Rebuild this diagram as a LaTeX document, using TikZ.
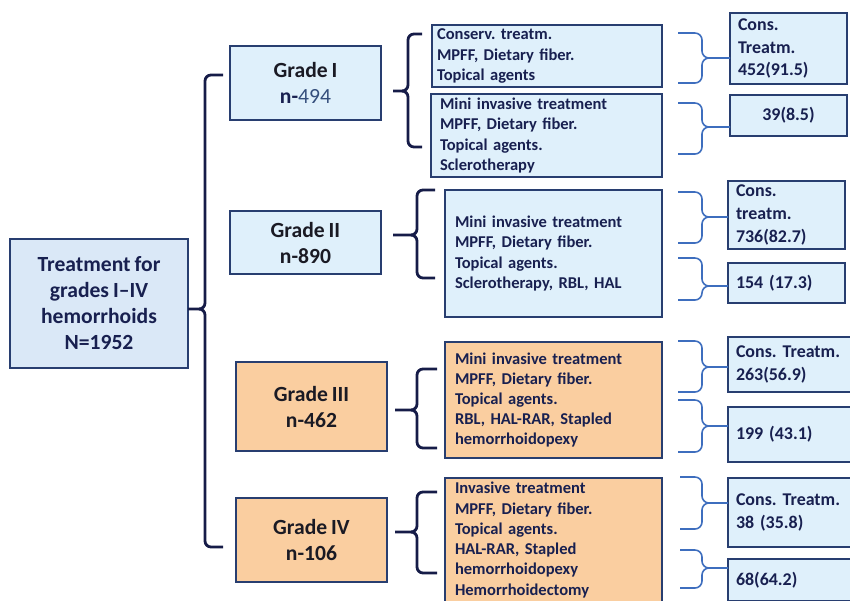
\documentclass[tikz,border=0pt]{standalone}
\usepackage{fontspec}
\setmainfont{Carlito}[WordSpace=0.8]
\frenchspacing

\definecolor{boxline}{RGB}{40,62,112}
\definecolor{rootfill}{RGB}{218,232,247}
\definecolor{bluefill}{RGB}{223,240,251}
\definecolor{orangefill}{RGB}{250,206,160}
\definecolor{navy}{RGB}{24,32,80}
\definecolor{gradetext}{RGB}{26,26,36}
\definecolor{numblue}{RGB}{52,78,124}
\definecolor{lbracecol}{RGB}{22,28,72}
\definecolor{rbracecol}{RGB}{62,110,190}

\tikzset{
  box/.style={draw=boxline, line width=1pt, inner sep=0pt, font=\bfseries},
  gradebox/.style={box, align=center, text=gradetext,
    font=\bfseries\fontsize{12.3}{14.8}\selectfont},
  treat/.style={box, align=left, text=navy, inner xsep=0.2cm, text width=3.94cm,
    font=\bfseries\fontsize{9.4}{11.5}\selectfont},
  result/.style={box, fill=bluefill, align=left, text=navy, inner xsep=0.16cm,
    font=\bfseries\fontsize{10.2}{13}\selectfont},
  lbrace/.style={draw=lbracecol, line width=1.6pt},
  rbrace/.style={draw=rbracecol, line width=0.9pt}
}

% stub x, vertical x, hook x, top, mid, bottom
\newcommand{\gradebrace}[6]{%
  \draw[lbrace] (#3,#4) -- ({#2+6},#4) to[out=180,in=90] (#2,{#4+6}) -- (#2,{#5-6})
    to[out=-90,in=0] ({#2-6},#5) -- (#1,#5);
  \draw[lbrace] ({#2-6},#5) to[out=0,in=90] (#2,{#5+6}) -- (#2,{#6-6})
    to[out=-90,in=180] ({#2+6},#6) -- (#3,#6);
}
% hook x, vertical x, tip x, top, mid, bottom
\newcommand{\resultbrace}[6]{%
  \draw[rbrace] (#1,#4) -- ({#2-7},#4) to[out=0,in=90] (#2,{#4+7}) -- (#2,{#5-7})
    to[out=-90,in=180] ({#2+7},#5) -- (#3,#5);
  \draw[rbrace] ({#2+7},#5) to[out=180,in=90] (#2,{#5+7}) -- (#2,{#6-7})
    to[out=-90,in=0] ({#2-7},#6) -- (#1,#6);
}

\begin{document}
\begin{tikzpicture}[x=0.02cm, y=-0.02cm]
  \useasboundingbox (0,0) rectangle (850,600);

  % Root and grades
  \node[gradebox, fill=rootfill, text=navy, minimum width=3.56cm, minimum height=2.58cm]
    (root) at (99,303.5) {Treatment for\\grades I–IV\\hemorrhoids\\N=1952};
  \node[gradebox, fill=bluefill, minimum width=3.02cm, minimum height=1.48cm]
    (g1) at (305.5,83) {Grade I\\\textcolor{navy}{n-}\textcolor{numblue}{\mdseries 494}};
  \node[gradebox, fill=bluefill, minimum width=3.02cm, minimum height=1.26cm]
    (g2) at (305.5,242.5) {Grade II\\n-890};
  \node[gradebox, fill=orangefill, minimum width=3.02cm, minimum height=1.78cm]
    (g3) at (311.5,406.5) {Grade III\\n-462};
  \node[gradebox, fill=orangefill, minimum width=3.02cm, minimum height=1.68cm]
    (g4) at (311.5,540) {Grade IV\\n-106};

  % Treatments
  \node[treat, fill=bluefill, text width=4.4cm, inner xsep=0.1cm, minimum height=1.24cm]
    (t1) at (547,56) {Conserv. treatm.\\MPFF, Dietary fiber.\\Topical agents};
  \node[treat, fill=bluefill, text width=4.26cm, inner xsep=0.18cm, minimum height=1.66cm]
    (t2) at (546.5,135.5) {Mini invasive treatment\\MPFF, Dietary fiber.\\Topical agents.\\Sclerotherapy};
  \node[treat, fill=bluefill, minimum height=2.54cm]
    (t3) at (553.5,253.5) {Mini invasive treatment\\MPFF, Dietary fiber.\\Topical agents.\\Sclerotherapy, RBL, HAL};
  \node[treat, fill=orangefill, minimum height=2.32cm]
    (t4) at (553.5,400) {Mini invasive treatment\\MPFF, Dietary fiber.\\Topical agents.\\RBL, HAL-RAR, Stapled\\hemorrhoidopexy};
  \node[treat, fill=orangefill, minimum height=2.48cm]
    (t5) at (553.5,540) {Invasive treatment\\MPFF, Dietary fiber.\\Topical agents.\\HAL-RAR, Stapled\\hemorrhoidopexy\\Hemorrhoidectomy};

  % Results
  \node[result, text width=2.02cm, minimum height=1.42cm] (r1) at (788.5,48.5) {Cons.\\Treatm.\\452(91.5)};
  \node[result, align=center, text width=2.02cm, minimum height=0.82cm] (r2) at (788.5,115.5) {39(8.5)};
  \node[result, text width=2.02cm, minimum height=1.36cm] (r3) at (786.5,215) {Cons.\\treatm.\\736(82.7)};
  \node[result, text width=2.02cm, minimum height=0.8cm] (r4) at (786.5,283) {154 (17.3)};
  \node[result, text width=2.52cm, minimum height=1.1cm] (r5) at (799,364.5) {Cons. Treatm.\\263(56.9)};
  \node[result, text width=2.52cm, minimum height=1.1cm] (r6) at (799,434.5) {199 (43.1)};
  \node[result, text width=2.52cm, minimum height=1.38cm] (r7) at (799,512.5) {Cons. Treatm.\\38 (35.8)};
  \node[result, text width=2.52cm, minimum height=0.84cm] (r8) at (799,580) {68(64.2)};

  % Braces
  \gradebrace{188}{205}{223}{75}{309}{547}
  \gradebrace{393}{408}{422}{34}{91}{147}
  \gradebrace{393}{417}{435}{190}{235}{278}
  \gradebrace{395}{417}{437}{369}{410}{448}
  \gradebrace{395}{417}{437}{492}{532}{573}

  \resultbrace{678}{702}{730}{33}{58}{83}
  \resultbrace{678}{702}{730}{103}{127}{154}
  \resultbrace{678}{702}{728}{192}{217}{243}
  \resultbrace{678}{702}{728}{258}{286}{300}
  \resultbrace{678}{702}{728}{341}{367}{392}
  \resultbrace{678}{702}{728}{400}{426}{452}
  \resultbrace{680}{702}{728}{477}{503}{529}
  \resultbrace{680}{702}{728}{550}{568}{588}
\end{tikzpicture}
\end{document}
